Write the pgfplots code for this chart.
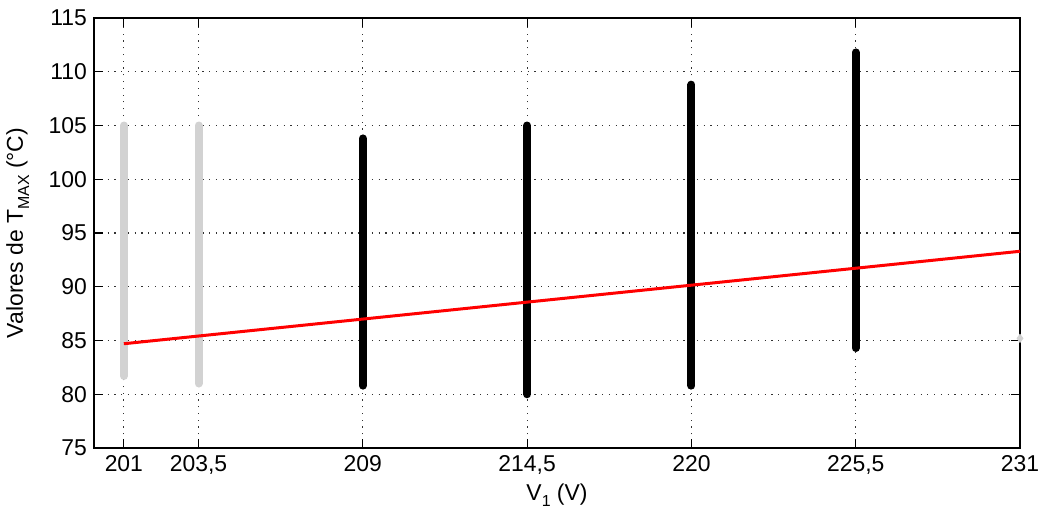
\documentclass[border=0pt]{standalone}
\usepackage{pgfplots}
\pgfplotsset{compat=1.18}
\usepackage{fontspec}
\setmainfont{Liberation Sans}
\definecolor{lgray}{RGB}{210,210,210}
\begin{document}
\begin{tikzpicture}
\begin{axis}[
  at={(0,0)}, anchor=south west,
  scale only axis, width=463bp, height=215bp,
  xmin=200, xmax=231, ymin=75, ymax=115,
  xtick={201,203.5,209,214.5,220,225.5,231},
  xticklabels={201,{203,5},209,{214,5},220,{225,5},231},
  ytick={75,80,...,115},
  /pgf/number format/assume math mode=true,
  tick label style={font=\fontsize{11.5}{13}\selectfont},
  label style={font=\fontsize{11.5}{13}\selectfont},
  grid=major,
  major grid style={black!80, line width=0.6pt, dash pattern=on 0.6pt off 2.8pt},
  tick align=inside, major tick length=4.5bp,
  tick style={black, line width=0.6pt},
  axis line style={black, line width=0.6pt},
  xlabel={V\raisebox{-0.5ex}{\fontsize{8}{9}\selectfont 1} (V)},
  ylabel={Valores de T\raisebox{-0.5ex}{\fontsize{8}{9}\selectfont MAX} (°C)},
  xlabel style={yshift=2bp},
  ylabel style={yshift=3bp},
  clip=false,
]
\addplot[lgray, line width=4bp, line cap=round] coordinates {(201,81.7) (201,105)};
\addplot[lgray, line width=4bp, line cap=round] coordinates {(203.5,81.0) (203.5,105)};
\addplot[black, line width=4bp, line cap=round] coordinates {(209,80.8) (209,103.8)};
\addplot[black, line width=4bp, line cap=round] coordinates {(214.5,80.0) (214.5,105)};
\addplot[black, line width=4bp, line cap=round] coordinates {(220,80.8) (220,108.8)};
\addplot[black, line width=4bp, line cap=round] coordinates {(225.5,84.3) (225.5,111.8)};
\addplot[lgray, only marks, mark=diamond*, mark size=2bp] coordinates {(231,85.2)};
\addplot[red, line width=1.5bp] coordinates {(201,84.7) (231,93.3)};
\end{axis}
\pgfresetboundingbox
\path[use as bounding box] (-47bp,-31bp) rectangle (472bp,224bp);
\end{tikzpicture}
\end{document}
